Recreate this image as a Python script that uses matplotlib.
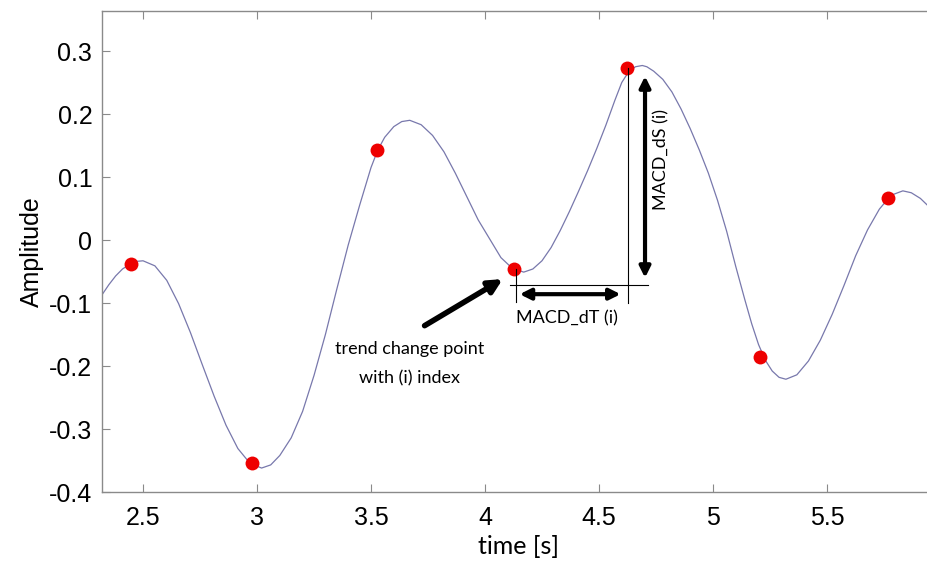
import numpy as np
import matplotlib.pyplot as plt

# signal (time in s, amplitude)
t = [2.32, 2.35, 2.38, 2.41, 2.44, 2.47, 2.50,
     2.552, 2.604, 2.656, 2.708, 2.760, 2.812, 2.864, 2.916, 2.968, 3.02,
     3.06, 3.10, 3.15, 3.20, 3.25, 3.30, 3.35, 3.40, 3.45, 3.50, 3.53, 3.56,
     3.60, 3.635, 3.67,
     3.72, 3.77, 3.82, 3.87, 3.92, 3.97, 4.02, 4.07, 4.12, 4.17,
     4.21, 4.25, 4.29, 4.33, 4.37, 4.41, 4.45, 4.49, 4.53, 4.57, 4.60, 4.63,
     4.66, 4.69, 4.71,
     4.74, 4.78, 4.82, 4.86, 4.90, 4.94, 4.98, 5.02, 5.06, 5.10, 5.14, 5.17,
     5.20, 5.23, 5.26, 5.29, 5.32,
     5.368, 5.419, 5.471, 5.523, 5.575, 5.626, 5.678, 5.730, 5.781, 5.833,
     5.87, 5.91, 5.95, 5.98]
amp = [-0.087, -0.071, -0.057, -0.046, -0.039, -0.034, -0.033,
       -0.041, -0.064, -0.101, -0.147, -0.198, -0.248, -0.294, -0.331, -0.354,
       -0.362,
       -0.357, -0.342, -0.314, -0.272, -0.215, -0.150, -0.078, -0.008, 0.055,
       0.115, 0.143, 0.163, 0.180, 0.188, 0.190,
       0.183, 0.166, 0.140, 0.106, 0.069, 0.032, 0.002, -0.028, -0.045, -0.051,
       -0.046, -0.033, -0.012, 0.015, 0.045, 0.077, 0.110, 0.145, 0.182, 0.222,
       0.250, 0.267, 0.275, 0.277, 0.275,
       0.268, 0.255, 0.235, 0.208, 0.177, 0.143, 0.106, 0.063, 0.014, -0.042,
       -0.095, -0.133, -0.166, -0.191, -0.208, -0.218, -0.221,
       -0.214, -0.192, -0.159, -0.118, -0.072, -0.025, 0.016, 0.049, 0.071,
       0.078, 0.075, 0.066, 0.052, 0.040]

# trend change points
pt_t = [2.447, 2.978, 3.526, 4.127, 4.623, 5.206, 5.768]
pt_amp = [-0.038, -0.354, 0.143, -0.046, 0.273, -0.186, 0.067]

W, H = 927, 562
fig = plt.figure(figsize=(W / 100, H / 100), dpi=100)
ax = fig.add_axes([102 / W, (H - 492) / H, (935 - 102) / W, (492 - 11) / H])

ax.plot(t, amp, color="#7878ac", lw=0.9)
ax.plot(pt_t, pt_amp, "o", color="#ee0000", ms=10, mec="none")

ax.set_xlim(2.32, 5.974)
ax.set_ylim(-0.4, 0.3635)
ax.set_xticks([2.5, 3, 3.5, 4, 4.5, 5, 5.5])
ax.set_xticklabels(["2.5", "3", "3.5", "4", "4.5", "5", "5.5"])
ax.set_yticks([-0.4, -0.3, -0.2, -0.1, 0, 0.1, 0.2, 0.3])
ax.set_yticklabels(["-0.4", "-0.3", "-0.2", "-0.1", "0", "0.1", "0.2", "0.3"])

for s in ax.spines.values():
    s.set_color("#8a8a8a")
    s.set_linewidth(1.0)
ax.tick_params(direction="in", length=5.5, width=0.8, color="#8a8a8a",
               top=True, right=True, labelsize=18,
               labelfontfamily="Liberation Sans")
ax.tick_params(axis="x", pad=10)
ax.tick_params(axis="y", pad=7)

ax.set_ylabel("Amplitude", fontsize=18, family="Liberation Sans", labelpad=4)
ax.set_xlabel("time [s]", fontsize=18, family="Lato", labelpad=4)

# annotation lines
ti, si = 4.136, -0.046
tj, sj = 4.627, 0.273
base = -0.071
ax.plot([4.11, 4.715], [base, base], color="black", lw=0.8)
ax.plot([ti, ti], [si, -0.098], color="black", lw=0.8)
ax.plot([tj, tj], [sj, -0.1], color="black", lw=0.8)

arr = dict(arrowstyle="<|-|>", color="black", lw=3, mutation_scale=16,
           shrinkA=0, shrinkB=0)
ax.annotate("", xy=(4.152, -0.086), xytext=(4.595, -0.086), arrowprops=arr)
ax.annotate("", xy=(4.702, 0.26), xytext=(4.702, -0.06), arrowprops=arr)

ax.text(4.36, -0.124, "MACD_dT (i)", fontsize=13, family="Lato",
        ha="center", va="center")
ax.text(4.775, 0.128, "MACD_dS (i)", fontsize=13, family="Lato",
        ha="center", va="center", rotation=90)

ax.annotate("", xy=(4.078, -0.062), xytext=(3.735, -0.136),
            arrowprops=dict(arrowstyle="-|>", color="black", lw=4,
                            mutation_scale=20, shrinkA=0, shrinkB=0))
ax.text(3.67, -0.197, "trend change point\nwith (i) index", fontsize=13,
        family="Lato", ha="center", va="center", linespacing=2.0)

fig.savefig("out.png", dpi=100)
